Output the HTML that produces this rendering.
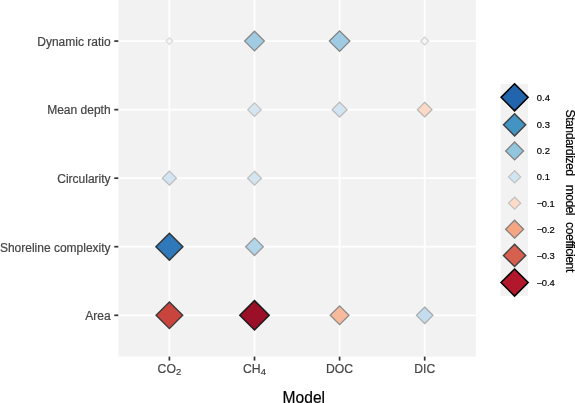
<!DOCTYPE html>
<html><head><meta charset="utf-8"><title>Model coefficients</title>
<style>
html,body{margin:0;padding:0;background:#fff;}
svg{display:block;font-family:"Liberation Sans", "Helvetica", "Arial", sans-serif;}
</style></head>
<body>
<svg width="575" height="403" viewBox="0 0 575 403">
<rect width="575" height="403" fill="#fff"/>
<rect x="118.3" y="0" width="357.5" height="356.6" fill="#f2f2f2"/>
<line x1="169.4" y1="0" x2="169.4" y2="356.6" stroke="#fff" stroke-width="1.8"/>
<line x1="254.5" y1="0" x2="254.5" y2="356.6" stroke="#fff" stroke-width="1.8"/>
<line x1="339.6" y1="0" x2="339.6" y2="356.6" stroke="#fff" stroke-width="1.8"/>
<line x1="424.7" y1="0" x2="424.7" y2="356.6" stroke="#fff" stroke-width="1.8"/>
<line x1="118.3" y1="41.1" x2="475.8" y2="41.1" stroke="#fff" stroke-width="1.8"/>
<line x1="118.3" y1="109.65" x2="475.8" y2="109.65" stroke="#fff" stroke-width="1.8"/>
<line x1="118.3" y1="178.2" x2="475.8" y2="178.2" stroke="#fff" stroke-width="1.8"/>
<line x1="118.3" y1="246.7" x2="475.8" y2="246.7" stroke="#fff" stroke-width="1.8"/>
<line x1="118.3" y1="315.3" x2="475.8" y2="315.3" stroke="#fff" stroke-width="1.8"/>
<line x1="169.4" y1="356.6" x2="169.4" y2="360.6" stroke="#333" stroke-width="1.7"/>
<line x1="254.5" y1="356.6" x2="254.5" y2="360.6" stroke="#333" stroke-width="1.7"/>
<line x1="339.6" y1="356.6" x2="339.6" y2="360.6" stroke="#333" stroke-width="1.7"/>
<line x1="424.7" y1="356.6" x2="424.7" y2="360.6" stroke="#333" stroke-width="1.7"/>
<line x1="114.3" y1="41.1" x2="118.3" y2="41.1" stroke="#333" stroke-width="1.7"/>
<line x1="114.3" y1="109.65" x2="118.3" y2="109.65" stroke="#333" stroke-width="1.7"/>
<line x1="114.3" y1="178.2" x2="118.3" y2="178.2" stroke="#333" stroke-width="1.7"/>
<line x1="114.3" y1="246.7" x2="118.3" y2="246.7" stroke="#333" stroke-width="1.7"/>
<line x1="114.3" y1="315.3" x2="118.3" y2="315.3" stroke="#333" stroke-width="1.7"/>
<path d="M169.40 37.76 L172.75 41.10 L169.40 44.45 L166.06 41.10 Z" fill="#faf7f5" stroke="#d8d8d8" stroke-width="1.15" stroke-linejoin="miter"/>
<path d="M254.50 31.26 L264.34 41.10 L254.50 50.94 L244.66 41.10 Z" fill="#a0cbe3" stroke="#888888" stroke-width="1.3" stroke-linejoin="miter"/>
<path d="M339.60 30.86 L349.84 41.10 L339.60 51.34 L329.36 41.10 Z" fill="#9ecae2" stroke="#808080" stroke-width="1.3" stroke-linejoin="miter"/>
<path d="M424.70 37.19 L428.61 41.10 L424.70 45.01 L420.79 41.10 Z" fill="#f2f6f9" stroke="#d0d0d0" stroke-width="1.2" stroke-linejoin="miter"/>
<path d="M254.50 102.84 L261.31 109.65 L254.50 116.46 L247.69 109.65 Z" fill="#d6e6f1" stroke="#c0c0c0" stroke-width="1.2" stroke-linejoin="miter"/>
<path d="M339.60 102.14 L347.11 109.65 L339.60 117.16 L332.09 109.65 Z" fill="#d1e4f0" stroke="#b8b8b8" stroke-width="1.2" stroke-linejoin="miter"/>
<path d="M424.70 102.29 L432.06 109.65 L424.70 117.01 L417.34 109.65 Z" fill="#fbd9c6" stroke="#b5b5b5" stroke-width="1.2" stroke-linejoin="miter"/>
<path d="M169.40 171.14 L176.46 178.20 L169.40 185.26 L162.34 178.20 Z" fill="#d2e5f0" stroke="#bbbbbb" stroke-width="1.2" stroke-linejoin="miter"/>
<path d="M254.50 171.24 L261.46 178.20 L254.50 185.16 L247.54 178.20 Z" fill="#d3e5f0" stroke="#bcbcbc" stroke-width="1.2" stroke-linejoin="miter"/>
<path d="M169.40 233.18 L182.92 246.70 L169.40 260.22 L155.88 246.70 Z" fill="#2f78b9" stroke="#333333" stroke-width="1.4" stroke-linejoin="miter"/>
<path d="M254.50 237.86 L263.34 246.70 L254.50 255.54 L245.66 246.70 Z" fill="#b3d5e9" stroke="#999999" stroke-width="1.3" stroke-linejoin="miter"/>
<path d="M169.40 301.98 L182.72 315.30 L169.40 328.62 L156.08 315.30 Z" fill="#c9443d" stroke="#3a3a3a" stroke-width="1.4" stroke-linejoin="miter"/>
<path d="M254.50 300.60 L269.20 315.30 L254.50 330.00 L239.80 315.30 Z" fill="#9c1027" stroke="#1a1a1a" stroke-width="1.5" stroke-linejoin="miter"/>
<path d="M339.60 305.91 L348.99 315.30 L339.60 324.69 L330.21 315.30 Z" fill="#f8b99c" stroke="#8a8a8a" stroke-width="1.3" stroke-linejoin="miter"/>
<path d="M424.70 307.04 L432.96 315.30 L424.70 323.56 L416.44 315.30 Z" fill="#c3ddee" stroke="#a8a8a8" stroke-width="1.2" stroke-linejoin="miter"/>
<text x="110.6" y="45.90" text-anchor="end" font-size="12" fill="#444" stroke="#444" stroke-width="0.2">Dynamic ratio</text>
<text x="110.6" y="114.45" text-anchor="end" font-size="12" fill="#444" stroke="#444" stroke-width="0.2">Mean depth</text>
<text x="110.6" y="183.00" text-anchor="end" font-size="12" fill="#444" stroke="#444" stroke-width="0.2">Circularity</text>
<text x="110.6" y="251.50" text-anchor="end" font-size="12" fill="#444" stroke="#444" stroke-width="0.2">Shoreline complexity</text>
<text x="110.6" y="320.10" text-anchor="end" font-size="12" fill="#444" stroke="#444" stroke-width="0.2">Area</text>
<text x="169.4" y="373.3" text-anchor="middle" font-size="12.2" fill="#444" stroke="#444" stroke-width="0.2">CO<tspan font-size="9.5" dy="2.0">2</tspan></text>
<text x="254.5" y="373.3" text-anchor="middle" font-size="12.2" fill="#444" stroke="#444" stroke-width="0.2">CH<tspan font-size="9.5" dy="2.0">4</tspan></text>
<text x="339.6" y="373.3" text-anchor="middle" font-size="12.2" fill="#444" stroke="#444" stroke-width="0.2">DOC</text>
<text x="424.7" y="373.3" text-anchor="middle" font-size="12.2" fill="#444" stroke="#444" stroke-width="0.2">DIC</text>
<text x="303.85" y="402.5" text-anchor="middle" font-size="15.6" fill="#000" stroke="#000" stroke-width="0.2">Model</text>
<rect x="500.6" y="83.95" width="27.50" height="211.90" fill="#f2f2f2"/>
<path d="M514.60 83.80 L528.15 97.35 L514.60 110.90 L501.05 97.35 Z" fill="#2166ac" stroke="#000000" stroke-width="1.5" stroke-linejoin="miter"/>
<text x="536.85" y="100.80" font-size="9.4" fill="#000" stroke="#000" stroke-width="0.2">0.4</text>
<path d="M514.60 113.66 L525.72 124.78 L514.60 135.90 L503.48 124.78 Z" fill="#4393c3" stroke="#404040" stroke-width="1.4" stroke-linejoin="miter"/>
<text x="536.85" y="128.23" font-size="9.4" fill="#000" stroke="#000" stroke-width="0.2">0.3</text>
<path d="M514.60 142.04 L523.54 150.98 L514.60 159.92 L505.66 150.98 Z" fill="#92c5de" stroke="#808080" stroke-width="1.3" stroke-linejoin="miter"/>
<text x="536.85" y="154.43" font-size="9.4" fill="#000" stroke="#000" stroke-width="0.2">0.2</text>
<path d="M514.60 170.79 L520.71 176.90 L514.60 183.01 L508.49 176.90 Z" fill="#d1e5f0" stroke="#c0c0c0" stroke-width="1.2" stroke-linejoin="miter"/>
<text x="536.85" y="180.35" font-size="9.4" fill="#000" stroke="#000" stroke-width="0.2">0.1</text>
<path d="M514.60 197.04 L520.71 203.15 L514.60 209.26 L508.49 203.15 Z" fill="#fddbc7" stroke="#c0c0c0" stroke-width="1.2" stroke-linejoin="miter"/>
<text y="206.60" font-size="9.4" fill="#000" stroke="#000" stroke-width="0.2"><tspan x="536.7" dy="0.8">−</tspan><tspan x="541.7" dy="-0.8">0.1</tspan></text>
<path d="M514.60 220.21 L523.59 229.20 L514.60 238.19 L505.61 229.20 Z" fill="#f4a582" stroke="#808080" stroke-width="1.3" stroke-linejoin="miter"/>
<text y="232.65" font-size="9.4" fill="#000" stroke="#000" stroke-width="0.2"><tspan x="536.7" dy="0.8">−</tspan><tspan x="541.7" dy="-0.8">0.2</tspan></text>
<path d="M514.60 244.28 L525.72 255.40 L514.60 266.52 L503.48 255.40 Z" fill="#d6604d" stroke="#404040" stroke-width="1.4" stroke-linejoin="miter"/>
<text y="258.85" font-size="9.4" fill="#000" stroke="#000" stroke-width="0.2"><tspan x="536.7" dy="0.8">−</tspan><tspan x="541.7" dy="-0.8">0.3</tspan></text>
<path d="M514.60 269.01 L528.15 282.56 L514.60 296.11 L501.05 282.56 Z" fill="#b2182b" stroke="#000000" stroke-width="1.5" stroke-linejoin="miter"/>
<text y="286.01" font-size="9.4" fill="#000" stroke="#000" stroke-width="0.2"><tspan x="536.7" dy="0.8">−</tspan><tspan x="541.7" dy="-0.8">0.4</tspan></text>
<g transform="translate(565.9,109.5) rotate(90)" font-size="12.2" fill="#000" stroke="#000" stroke-width="0.2"><text x="0" y="0" textLength="66.6" lengthAdjust="spacing">Standardized</text><text x="75.2" y="0" textLength="30.8" lengthAdjust="spacing">model</text><text x="112.6" y="0" textLength="50.2" lengthAdjust="spacing">coefficient</text></g>
</svg>
</body></html>
